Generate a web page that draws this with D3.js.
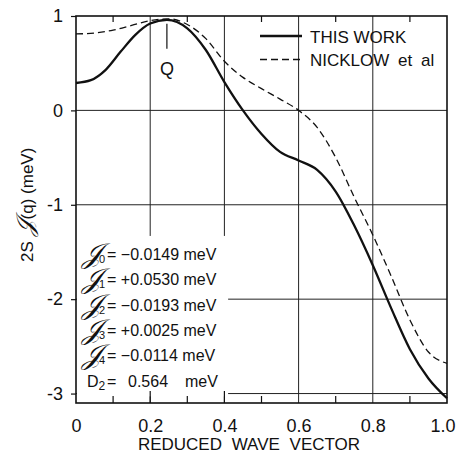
<!DOCTYPE html>
<html>
<head>
<meta charset="utf-8">
<script src="https://cdn.jsdelivr.net/npm/d3@7"></script>
<style>
  html, body { margin: 0; padding: 0; background: #fff; }
  text { font-family: 'Liberation Sans', Arial, sans-serif; fill: #111; }
</style>
</head>
<body>
<div id="app"></div>
<script>
const width = 456;
const height = 457;

// reduced wave vector q
const qThisWork = [0, 0.04, 0.08, 0.12, 0.16, 0.2, 0.245, 0.3, 0.35, 0.4, 0.45, 0.5, 0.55, 0.6, 0.65, 0.7, 0.75, 0.8, 0.85, 0.9, 0.95, 1.0];
const thisWork  = [0.29, 0.32, 0.43, 0.62, 0.80, 0.92, 0.96, 0.87, 0.64, 0.30, 0.00, -0.25, -0.44, -0.53, -0.63, -0.86, -1.22, -1.64, -2.10, -2.53, -2.84, -3.05];

const qNicklow = [0, 0.05, 0.1, 0.15, 0.2, 0.25, 0.3, 0.35, 0.4, 0.45, 0.5, 0.55, 0.6, 0.65, 0.7, 0.75, 0.8, 0.85, 0.9, 0.95, 1.0];
const nicklow  = [0.81, 0.82, 0.85, 0.90, 0.95, 0.97, 0.91, 0.76, 0.52, 0.35, 0.23, 0.12, 0.00, -0.18, -0.50, -0.92, -1.32, -1.76, -2.22, -2.56, -2.68];

const xTicks = [0, 0.2, 0.4, 0.6, 0.8, 1.0];
const xTickLabels = ['0', '0.2', '0.4', '0.6', '0.8', '1.0'];
const xMinor = [0.1, 0.3, 0.5, 0.7, 0.9];
const yTicks = [1, 0, -1, -2, -3];
const yTickLabels = ['1', '0', '-1', '-2', '-3'];

const legendLabels = ['THIS WORK', 'NICKLOW et al'];
const paramSubs = ['0', '1', '2', '3', '4'];
const paramValues = ['= \u22120.0149 meV', '= +0.0530 meV', '= \u22120.0193 meV', '= +0.0025 meV', '= \u22120.0114 meV'];
const d2Value = ['0.564', 'meV'];



const x = d3.scaleLinear().domain([0, 1]).range([76, 447]);
const y = d3.scaleLinear().domain([-3.1, 1]).range([403, 16]);

const svg = d3.select('#app').append('svg')
  .attr('width', width)
  .attr('height', height);

// grid
svg.append('g')
  .selectAll('line')
  .data(xTicks.slice(1, -1))
  .enter().append('line')
  .attr('x1', d => x(d)).attr('x2', d => x(d))
  .attr('y1', y(1)).attr('y2', y(-3.1))
  .attr('stroke', '#222').attr('stroke-width', 1);

svg.append('g')
  .selectAll('line')
  .data(yTicks.slice(1))
  .enter().append('line')
  .attr('x1', x(0)).attr('x2', x(1))
  .attr('y1', d => y(d)).attr('y2', d => y(d))
  .attr('stroke', '#222').attr('stroke-width', 1);

// the parameter list sits on a blank patch of the grid
svg.append('rect')
  .attr('x', x(0) + 1).attr('y', y(-1.33))
  .attr('width', x(0.41) - x(0) - 1).attr('height', y(-3.03) - y(-1.33))
  .attr('fill', '#fff');

// frame
svg.append('rect')
  .attr('x', x(0)).attr('y', y(1))
  .attr('width', x(1) - x(0)).attr('height', y(-3.1) - y(1))
  .attr('fill', 'none').attr('stroke', '#111').attr('stroke-width', 1.6);

// inward minor ticks top and bottom
svg.append('g')
  .selectAll('line')
  .data(xMinor)
  .enter().append('line')
  .attr('x1', d => x(d)).attr('x2', d => x(d))
  .attr('y1', y(1)).attr('y2', y(1) + 6)
  .attr('stroke', '#111').attr('stroke-width', 1.2);

svg.append('g')
  .selectAll('line')
  .data(xMinor)
  .enter().append('line')
  .attr('x1', d => x(d)).attr('x2', d => x(d))
  .attr('y1', y(-3.1)).attr('y2', y(-3.1) - 7)
  .attr('stroke', '#111').attr('stroke-width', 1.2);

svg.append('g')
  .selectAll('line')
  .data([0.2, 0.4])
  .enter().append('line')
  .attr('x1', d => x(d)).attr('x2', d => x(d))
  .attr('y1', y(-3.1)).attr('y2', y(-3.1) - 12)
  .attr('stroke', '#111').attr('stroke-width', 1.2);

// axes: labels and outward left ticks
const xAxis = svg.append('g')
  .attr('transform', `translate(0,${y(-3.1)})`)
  .call(
    d3.axisBottom(x)
      .tickValues(xTicks)
      .tickFormat((_, i) => xTickLabels[i])
      .tickSize(0)
      .tickPadding(16)
  );
xAxis.select('.domain').remove();
xAxis.selectAll('text')
  .attr('font-size', 18)
  .attr('font-family', "'Liberation Sans', Arial, sans-serif")
  .attr('fill', '#111');
// last label hugs the right edge of the page
xAxis.selectAll('text')
  .filter(d => d === 1)
  .attr('text-anchor', 'end')
  .attr('x', width - 1 - x(1));

const yAxis = svg.append('g')
  .attr('transform', `translate(${x(0)},0)`)
  .call(
    d3.axisLeft(y)
      .tickValues(yTicks)
      .tickFormat((_, i) => yTickLabels[i])
      .tickSize(5)
      .tickPadding(8)
  );
yAxis.select('.domain').remove();
yAxis.selectAll('line').attr('stroke', '#111').attr('stroke-width', 1.2);
yAxis.selectAll('text')
  .attr('font-size', 18)
  .attr('font-family', "'Liberation Sans', Arial, sans-serif")
  .attr('fill', '#111');

// axis titles
svg.append('text')
  .attr('x', 249)
  .attr('y', 450)
  .attr('text-anchor', 'middle')
  .attr('font-size', 17)
  .attr('word-spacing', 5)
  .text('REDUCED WAVE VECTOR');

const yTitle = svg.append('text')
  .attr('transform', `translate(33,${y(-1)}) rotate(-90)`)
  .attr('text-anchor', 'middle')
  .attr('font-size', 17);
yTitle.append('tspan').text('2S ');
yTitle.append('tspan')
  .attr('font-family', "'DejaVu Serif', serif")
  .attr('font-style', 'italic')
  .attr('font-size', 24)
  .text('\uD835\uDCA5');
yTitle.append('tspan').text('(q) (meV)');

// curves
const line = d3.line()
  .x(d => x(d[0]))
  .y(d => y(d[1]))
  .curve(d3.curveMonotoneX);

svg.append('path')
  .datum(d3.zip(qNicklow, nicklow))
  .attr('d', line)
  .attr('fill', 'none')
  .attr('stroke', '#111')
  .attr('stroke-width', 1.3)
  .attr('stroke-dasharray', '7,4');

svg.append('path')
  .datum(d3.zip(qThisWork, thisWork))
  .attr('d', line)
  .attr('fill', 'none')
  .attr('stroke', '#111')
  .attr('stroke-width', 2.3);

// Q marker at the maximum
const peak = d3.maxIndex(thisWork);
svg.append('line')
  .attr('x1', x(qThisWork[peak])).attr('x2', x(qThisWork[peak]))
  .attr('y1', y(thisWork[peak]) + 4).attr('y2', y(thisWork[peak]) + 29)
  .attr('stroke', '#111').attr('stroke-width', 1.2);
svg.append('text')
  .attr('x', x(qThisWork[peak]))
  .attr('y', y(thisWork[peak]) + 55)
  .attr('text-anchor', 'middle')
  .attr('font-size', 18)
  .text('Q');

// legend
const legend = svg.append('g');
legendLabels.forEach((label, i) => {
  const ly = 36 + i * 23.5;
  legend.append('line')
    .attr('x1', 260).attr('x2', 302)
    .attr('y1', ly).attr('y2', ly)
    .attr('stroke', '#111')
    .attr('stroke-width', i ? 1.3 : 2.3)
    .attr('stroke-dasharray', i ? '7,4' : null);
  legend.append('text')
    .attr('x', 310)
    .attr('y', ly + 6.5)
    .attr('font-size', 17)
    .attr('word-spacing', i ? 4 : 0)
    .text(label);
});

// exchange parameters
const params = svg.append('g');
paramValues.forEach((v, i) => {
  const by = 260 + i * 25.3;
  params.append('text')
    .attr('x', 82)
    .attr('y', by + 3)
    .attr('font-family', "'DejaVu Serif', serif")
    .attr('font-style', 'italic')
    .attr('font-size', 28)
    .text('\uD835\uDCA5');
  params.append('text')
    .attr('x', 99)
    .attr('y', by + 3)
    .attr('font-size', 11)
    .text(paramSubs[i]);
  params.append('text')
    .attr('x', 107)
    .attr('y', by)
    .attr('font-size', 16)
    .text(v);
});

const d2 = params.append('text')
  .attr('y', 260 + 5 * 25.3)
  .attr('font-size', 16);
d2.append('tspan').attr('x', 87).text('D');
d2.append('tspan').attr('font-size', 12).attr('dy', 3).text('2');
d2.append('tspan').attr('x', 107).attr('dy', -3).text('=');
d2.append('tspan').attr('x', 128).text(d2Value[0]);
d2.append('tspan').attr('x', 185).text(d2Value[1]);
</script>
</body>
</html>
